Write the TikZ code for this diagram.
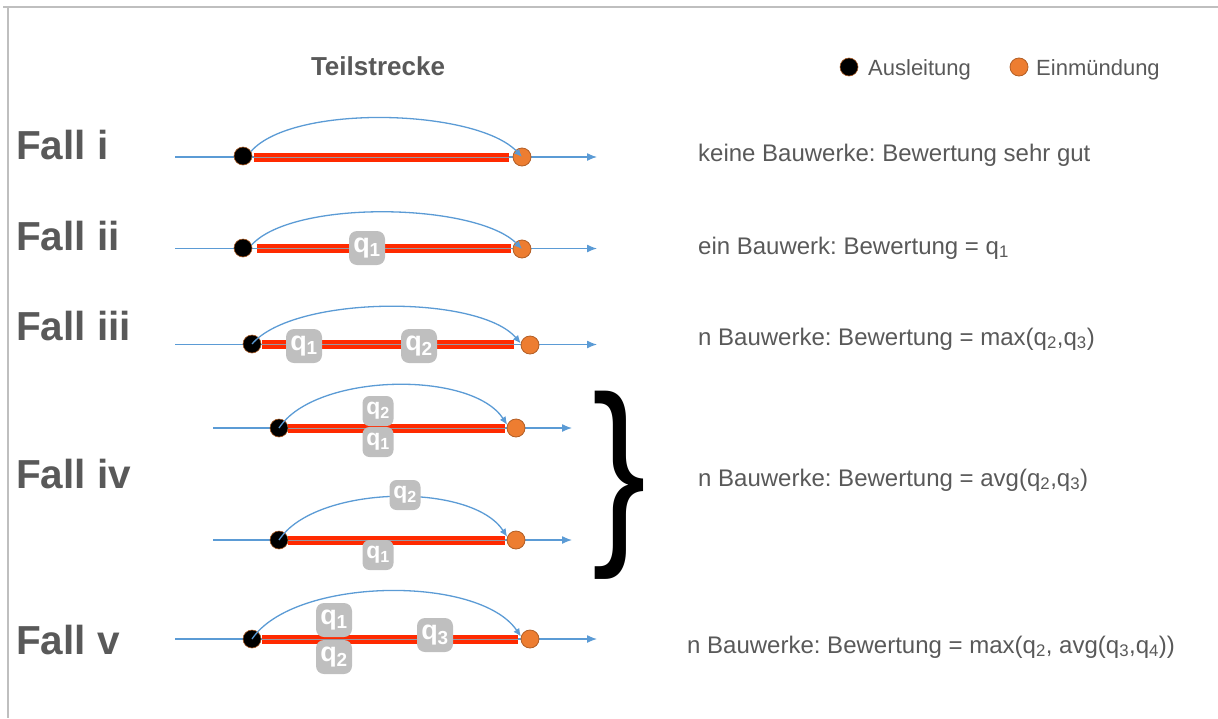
\documentclass[tikz,border=0pt]{standalone}
\usepackage{fontspec}
\setmainfont{Liberation Sans}
\usetikzlibrary{arrows.meta}
\definecolor{txt}{HTML}{595959}
\definecolor{lblue}{HTML}{5B9BD5}
\definecolor{eor}{HTML}{ED7D31}
\definecolor{bred}{HTML}{FF2A00}
\definecolor{qg}{HTML}{BFBFBF}
\definecolor{framegray}{HTML}{BFBFBF}
\definecolor{midgray}{HTML}{9A96A0}
\newcommand\qsub[1]{q\textsubscript{#1}}
\frenchspacing
\begin{document}
\begin{tikzpicture}[x=1pt,y=-1pt,
 road/.style={draw=lblue, line width=1.3pt, -{Latex[length=10pt,width=8pt]}},
 arcline/.style={draw=lblue, line width=1.3pt, -{Latex[length=8pt,width=7pt]}},
 aus/.style={circle, fill=black, draw=eor!70!black, line width=0.6pt, minimum size=18pt, inner sep=0pt},
 ein/.style={circle, fill=eor, draw=eor!75!black, line width=0.8pt, minimum size=18pt, inner sep=0pt},
 qbox/.style={rounded corners=8pt, fill=qg, text=white, minimum width=36pt, minimum height=34pt, inner sep=0pt, font=\fontsize{27}{27}\selectfont\bfseries},
 qsmall/.style={qbox, minimum width=31pt, minimum height=30pt, rounded corners=7pt, font=\fontsize{23}{23}\selectfont\bfseries},
 fall/.style={anchor=base west, text=txt, font=\fontsize{40.5}{40}\selectfont\bfseries, inner sep=0pt},
 desc/.style={anchor=base west, text=txt, font=\fontsize{24}{24}\selectfont, inner sep=0pt},
 leg/.style={anchor=base west, text=txt, font=\fontsize{22}{22}\selectfont, inner sep=0pt},
 redbar/.style={fill=bred},
 midline/.style={draw=midgray, line width=1pt}
]
\useasboundingbox (0,0) rectangle (1218,718);
\draw[framegray, line width=2pt] (3,7) -- (1218,7);
\draw[framegray, line width=2pt] (8,7) -- (8,718);

% header
\node[anchor=base, text=txt, font=\fontsize{26}{26}\selectfont\bfseries, inner sep=0pt] (title) at (378,75) {Teilstrecke};
\node[aus] (lga) at (849,67) {};
\node[leg] (lgat) at (868,75) {Ausleitung};
\node[ein] (lge) at (1019,67) {};
\node[leg] (lget) at (1036,75) {Einmündung};

% labels
\node[fall] (f1) at (16,159) {Fall i};
\node[fall] (f2) at (16,250) {Fall ii};
\node[fall] (f3) at (16,340) {Fall iii};
\node[fall] (f4) at (16,488) {Fall iv};
\node[fall] (f5) at (16,654) {Fall v};

% descriptions
\node[desc] (d1) at (698,161) {keine Bauwerke: Bewertung sehr gut};
\node[desc] (d2) at (698,254) {ein Bauwerk: Bewertung = \qsub{1}};
\node[desc] (d3) at (698,345) {n Bauwerke: Bewertung = max(\qsub{2},\qsub{3})};
\node[desc] (d4) at (698,486) {n Bauwerke: Bewertung = avg(\qsub{2},\qsub{3})};
\node[desc] (d5) at (687,653) {n Bauwerke: Bewertung = max(\qsub{2}, avg(\qsub{3},\qsub{4}))};

% brace
\node[inner sep=0pt, font=\fontsize{202}{202}\selectfont] (brace) at (619,485) {\scalebox{0.8}[1]{\}}};

% ---- Fall i
\coordinate (s1) at (175,157); \coordinate (t1) at (597,157);
\draw[road] (s1) -- (t1);
\fill[redbar] (254,152.5) rectangle (509,161.5);
\draw[midline] (254,157) -- (509,157);
\node[aus] (a1) at (243,156) {};
\node[ein] (e1) at (522,157) {};
\draw[arcline] (a1.30) .. controls +(42,-48) and +(-45,-48) .. (e1.center);

% ---- Fall ii
\coordinate (s2) at (175,248.5); \coordinate (t2) at (597,248.5);
\draw[road] (s2) -- (t2);
\fill[redbar] (257,244) rectangle (511,253);
\draw[midline] (257,248.5) -- (511,248.5);
\node[aus] (a2) at (243,248) {};
\node[ein] (e2) at (522,249) {};
\draw[arcline] (a2.20) .. controls +(42,-46) and +(-45,-46) .. (e2.center);
\node[qbox] (q21) at (367,248) {\qsub{1}};

% ---- Fall iii
\coordinate (s3) at (175,344.5); \coordinate (t3) at (597,344.5);
\draw[road] (s3) -- (t3);
\fill[redbar] (262,340) rectangle (514,349);
\draw[midline] (262,344.5) -- (514,344.5);
\node[aus] (a3) at (252,344) {};
\node[ein] (e3) at (530,345) {};
\draw[arcline] (a3.center) .. controls +(42,-49) and +(-42,-49) .. (e3.170);
\node[qbox] (q31) at (304,346) {\qsub{1}};
\node[qbox] (q32) at (419,346) {\qsub{2}};

% ---- Fall iv (top)
\coordinate (s4) at (213,428); \coordinate (t4) at (572,428);
\draw[road] (s4) -- (t4);
\fill[redbar] (288,423.5) rectangle (505,432.5);
\draw[midline] (288,428) -- (505,428);
\node[aus] (a4) at (279,428) {};
\node[ein] (e4) at (516,428) {};
\draw[arcline] (a4.center) .. controls +(36,-55) and +(-36,-55) .. (e4.160);
\node[qsmall] (q42) at (378,411) {\qsub{2}};
\node[qsmall] (q41) at (378,442) {\qsub{1}};

% ---- Fall iv (bottom)
\coordinate (s5) at (213,540); \coordinate (t5) at (572,540);
\draw[road] (s5) -- (t5);
\fill[redbar] (288,535.5) rectangle (505,544.5);
\draw[midline] (288,540) -- (505,540);
\node[aus] (a5) at (279,540) {};
\node[ein] (e5) at (516,540) {};
\draw[arcline] (a5.center) .. controls +(36,-55) and +(-36,-55) .. (e5.160);
\node[qsmall] (q52) at (405,495) {\qsub{2}};
\node[qsmall] (q51) at (378,555) {\qsub{1}};

% ---- Fall v
\coordinate (s6) at (175,639); \coordinate (t6) at (597,639);
\draw[road] (s6) -- (t6);
\fill[redbar] (262,634.5) rectangle (518,643.5);
\draw[midline] (262,639) -- (518,639);
\node[aus] (a6) at (252,639) {};
\node[ein] (e6) at (530,639) {};
\draw[arcline] (a6.center) .. controls +(42,-62) and +(-42,-62) .. (e6.165);
\node[qbox] (q61) at (334,620) {\qsub{1}};
\node[qbox] (q62) at (334,657) {\qsub{2}};
\node[qbox] (q63) at (435,635) {\qsub{3}};
\end{tikzpicture}
\end{document}
